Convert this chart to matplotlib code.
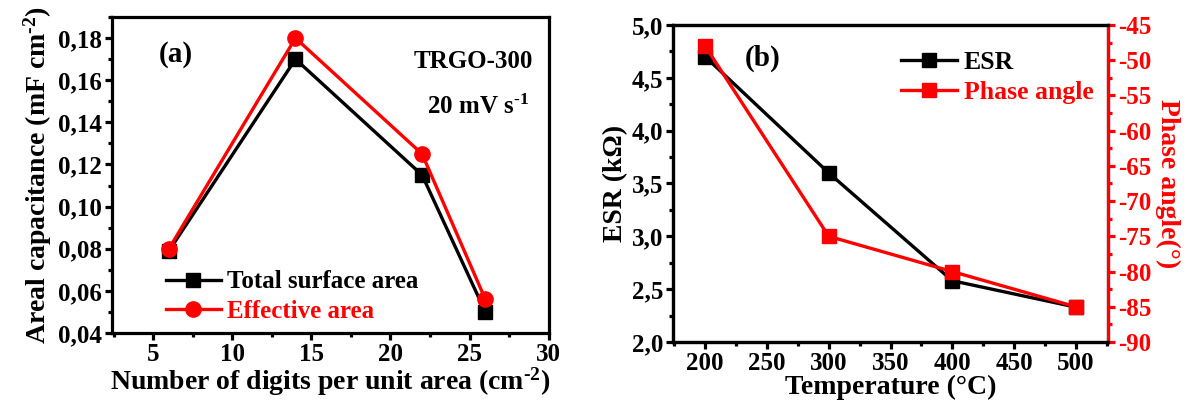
import matplotlib
matplotlib.use("Agg")
import matplotlib.pyplot as plt
from matplotlib.ticker import MultipleLocator, FuncFormatter

plt.rcParams["font.family"] = ["Liberation Serif", "DejaVu Serif"]
plt.rcParams["font.weight"] = "bold"
plt.rcParams["axes.unicode_minus"] = False
plt.rcParams["mathtext.fontset"] = "custom"
plt.rcParams["mathtext.rm"] = "Liberation Serif:bold"
plt.rcParams["mathtext.bf"] = "Liberation Serif:bold"
plt.rcParams["mathtext.it"] = "Liberation Serif:bold"

# (a) areal capacitance vs digit density
digits = [6, 14, 22, 26]
cap_total = [0.079, 0.170, 0.115, 0.050]
cap_effective = [0.080, 0.180, 0.125, 0.056]

# (b) ESR and phase angle vs reduction temperature
temperature = [200, 300, 400, 500]
esr = [4.70, 3.60, 2.58, 2.33]
phase = [-48, -75, -80, -85]

RED = "#ff0000"
TICK_FS = 18
LABEL_FS = 20
SUP_M2 = r"$^{\text{-}2}$"


def comma_fmt(decimals):
    return FuncFormatter(lambda v, p: f"{v:.{decimals}f}".replace(".", ","))


def style_axis(ax):
    for s in ax.spines.values():
        s.set_linewidth(2.3)
    ax.tick_params(which="both", direction="out", width=2.3, labelsize=TICK_FS,
                   top=False, right=False)
    ax.tick_params(which="major", length=5, pad=2)
    ax.tick_params(which="minor", length=3)


fig = plt.figure(figsize=(11.86, 4.09), dpi=100)

# ---------------- panel (a) ----------------
ax1 = fig.add_axes([0.0944, 0.1858, 0.3682, 0.7726])
ax1.plot(digits, cap_total, color="black", lw=2.4, marker="s", ms=10,
         label="Total surface area")
ax1.plot(digits, cap_effective, color=RED, lw=2.4, marker="o", ms=11,
         label="Effective area")
ax1.set_xlim(2.4, 30)
ax1.set_ylim(0.04, 0.19)
ax1.xaxis.set_major_locator(MultipleLocator(5))
ax1.xaxis.set_minor_locator(MultipleLocator(2.5))
ax1.yaxis.set_major_locator(MultipleLocator(0.02))
ax1.yaxis.set_minor_locator(MultipleLocator(0.01))
ax1.yaxis.set_major_formatter(comma_fmt(2))
style_axis(ax1)
ax1.set_xlabel("Number of digits per unit area (cm" + SUP_M2 + ")",
               fontsize=LABEL_FS, fontweight="bold", labelpad=0)
ax1.set_ylabel("Areal capacitance (mF cm" + SUP_M2 + ")", fontsize=LABEL_FS,
               fontweight="bold", labelpad=3)
ax1.text(0.107, 0.88, "(a)", transform=ax1.transAxes, fontsize=21,
         fontweight="bold", va="center", ha="left")
ax1.text(0.965, 0.86, "TRGO-300", transform=ax1.transAxes, fontsize=18,
         fontweight="bold", va="center", ha="right")
ax1.text(0.955, 0.715, r"20 mV s$^{\text{-}1}$", transform=ax1.transAxes,
         fontsize=18, fontweight="bold", va="center", ha="right")
leg1 = ax1.legend(loc="upper left", bbox_to_anchor=(0.10, 0.23), frameon=False,
                  fontsize=18, handlelength=2.2, handletextpad=0.25,
                  labelspacing=0.25, borderaxespad=0)
for t, c in zip(leg1.get_texts(), ["black", RED]):
    t.set_color(c)

# ---------------- panel (b) ----------------
ax2 = fig.add_axes([0.5675, 0.1638, 0.3667, 0.7751])
ax3 = ax2.twinx()
l_esr, = ax2.plot(temperature, esr, color="black", lw=2.4, marker="s", ms=10,
                  label="ESR")
l_ph, = ax3.plot(temperature, phase, color=RED, lw=2.4, marker="s", ms=10,
                 label="Phase angle")
ax2.set_xlim(174, 526)
ax2.set_ylim(2.0, 5.0)
ax3.set_ylim(-90, -45)
ax2.xaxis.set_major_locator(MultipleLocator(50))
ax2.xaxis.set_minor_locator(MultipleLocator(25))
ax2.yaxis.set_major_locator(MultipleLocator(0.5))
ax2.yaxis.set_minor_locator(MultipleLocator(0.25))
ax2.yaxis.set_major_formatter(comma_fmt(1))
ax3.yaxis.set_major_locator(MultipleLocator(5))
ax3.yaxis.set_minor_locator(MultipleLocator(2.5))
style_axis(ax2)
for s in ax3.spines.values():
    s.set_linewidth(2.3)
ax3.spines["right"].set_color(RED)
ax3.tick_params(which="both", direction="out", width=2.3, labelsize=TICK_FS,
                colors=RED, right=True, left=False, top=False)
ax3.tick_params(which="major", length=5, pad=2)
ax3.tick_params(which="minor", length=3)
ax2.set_xlabel("Temperature (°C)", fontsize=LABEL_FS, fontweight="bold",
               labelpad=0)
ax2.set_ylabel("ESR (k\u03a9)", fontsize=LABEL_FS, fontweight="bold", labelpad=3)
ax3.set_ylabel("Phase angle(°)", fontsize=LABEL_FS, fontweight="bold",
               color=RED, rotation=270, labelpad=21)
ax2.text(0.165, 0.895, "(b)", transform=ax2.transAxes, fontsize=21,
         fontweight="bold", va="center", ha="left")
leg2 = ax3.legend([l_esr, l_ph], ["ESR", "Phase angle"], loc="upper left",
                  bbox_to_anchor=(0.50, 0.95), frameon=False, fontsize=18.5,
                  handlelength=2.2, handletextpad=0.25, labelspacing=0.25,
                  borderaxespad=0)
for t, c in zip(leg2.get_texts(), ["black", RED]):
    t.set_color(c)

fig.savefig("out.png", dpi=100)
